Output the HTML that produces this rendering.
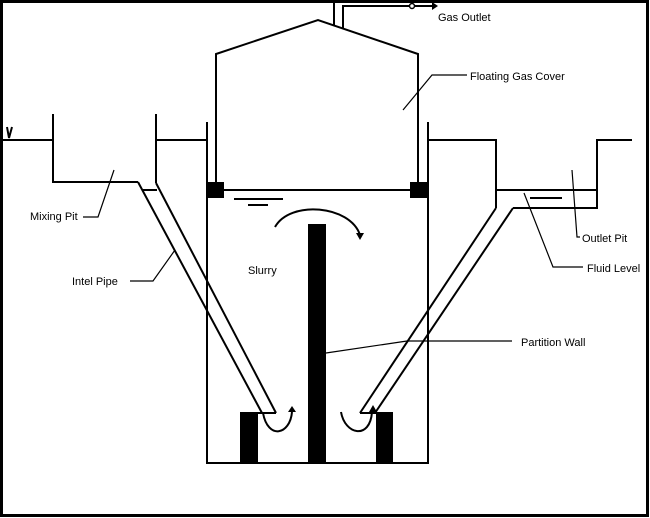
<!DOCTYPE html>
<html><head><style>
html,body{margin:0;padding:0;background:#fff;}
svg{display:block;}
text{font-family:"Liberation Sans",sans-serif;font-size:11px;fill:#000;}
</style></head><body>
<svg width="650" height="518" viewBox="0 0 650 518" xmlns="http://www.w3.org/2000/svg">
<rect x="1.5" y="1.5" width="646" height="514" fill="#fff" stroke="#000" stroke-width="3"/>
<g fill="none" stroke="#000" stroke-width="2">
<!-- left ground & mixing pit -->
<polyline points="3,140 53,140"/>
<polyline points="53,114 53,182 138,182"/>
<line x1="156" y1="114" x2="156" y2="183"/>
<line x1="157" y1="140" x2="207" y2="140"/>
<!-- inlet pipe -->
<line x1="138" y1="182" x2="262" y2="413"/>
<line x1="156" y1="183" x2="276" y2="413"/>
<line x1="143" y1="190" x2="157" y2="190"/>
<line x1="258" y1="413" x2="276" y2="413"/>
<!-- digester -->
<polyline points="207,122 207,463 428,463 428,122"/>
<!-- right ground & outlet pit -->
<polyline points="428,140 496,140 496,208"/>
<line x1="496" y1="190" x2="597" y2="190"/>
<polyline points="513,208 597,208 597,140 632,140"/>
<line x1="496" y1="208" x2="360" y2="413"/>
<line x1="513" y1="208" x2="375" y2="413"/>
<line x1="360" y1="413" x2="392" y2="413"/>
<line x1="530" y1="198" x2="562" y2="198"/>
<!-- gas cover -->
<polyline points="216,185 216,54 318,20 418,54 418,185"/>
<line x1="224" y1="190" x2="410" y2="190"/>
<line x1="234" y1="199" x2="283" y2="199"/>
<line x1="248" y1="205" x2="268" y2="205"/>
<!-- gas pipe -->
<line x1="334" y1="0" x2="334" y2="25"/>
<polyline points="343,28 343,6 410,6"/>
<line x1="415" y1="6" x2="432" y2="6"/>
<!-- V -->
<polyline points="7,127 9,138 12,127"/>
<!-- curved arrows -->
<path d="M275,227 C290,200 350,205 360,235"/>
<path d="M263,413 C268,440 290,435 292,412"/>
<path d="M372,412 C370,440 345,435 341,412"/>
</g>
<g fill="#000">
<circle cx="412" cy="6" r="2.5" fill="#fff" stroke="#000" stroke-width="1.5"/>
<polygon points="432,2 438,6 432,10"/>
<polygon points="356,233 364,233 360,240"/>
<polygon points="288,412 296,412 292,406"/>
<polygon points="369,412 377,412 373,405"/>
<rect x="207" y="182" width="17" height="16"/>
<rect x="410" y="182" width="18" height="16"/>
<rect x="308" y="224" width="18" height="239"/>
<rect x="240" y="412" width="18" height="51"/>
<rect x="376" y="412" width="17" height="51"/>
</g>
<g fill="none" stroke="#000" stroke-width="1.2">
<polyline points="467,75 432,75 403,110"/>
<polyline points="83,217 98,217 114,170"/>
<polyline points="130,281 153,281 175,250"/>
<polyline points="326,353 407,341 512,341"/>
<polyline points="572,170 577,237 580,237"/>
<polyline points="524,193 553,267 583,267"/>
</g>
<text x="438" y="21">Gas Outlet</text>
<text x="470" y="80">Floating Gas Cover</text>
<text x="30" y="220">Mixing Pit</text>
<text x="72" y="285">Intel Pipe</text>
<text x="248" y="274">Slurry</text>
<text x="521" y="346">Partition Wall</text>
<text x="582" y="242">Outlet Pit</text>
<text x="587" y="272">Fluid Level</text>
</svg>
</body></html>
